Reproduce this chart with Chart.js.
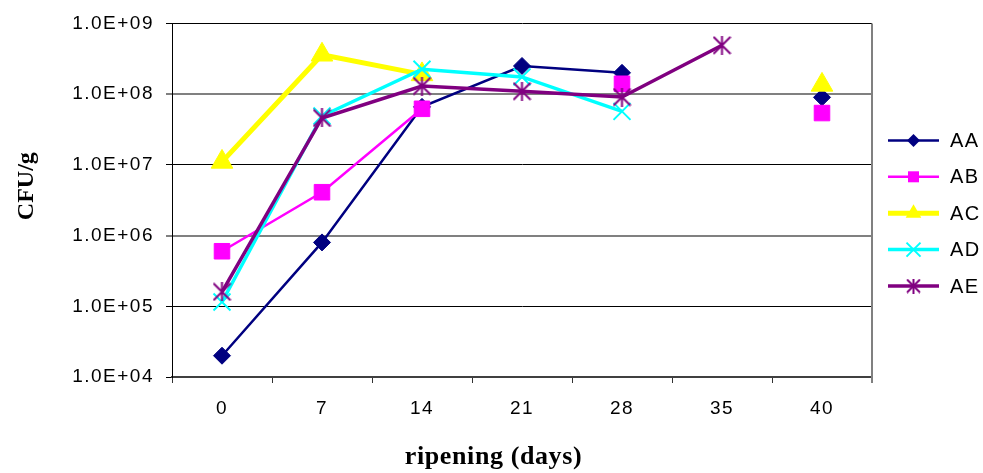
<!DOCTYPE html>
<html>
<head>
<meta charset="utf-8">
<script src="https://cdn.jsdelivr.net/npm/chart.js@4.4.1/dist/chart.umd.min.js"></script>
<style>
  html, body { margin: 0; padding: 0; background: #fff; }
  #wrap { width: 983px; height: 473px; }
</style>
</head>
<body>
<div id="wrap"><canvas id="c" width="983" height="473"></canvas></div>
<script>
// Ripening days (categories)
const days = ['0', '7', '14', '21', '28', '35', '40'];
const seriesNames = ['AA', 'AB', 'AC', 'AD', 'AE'];

// CFU/g counts per sample; null = not measured
const AA = [2.0e4, 8.0e5, 6.6e7, 2.5e8, 2.0e8, null, 9.0e7];
const AB = [6.0e5, 4.1e6, 6.2e7, null, 1.4e8, null, 5.4e7];
const AC = [1.1e7, 3.6e8, 1.9e8, null, null, null, 1.35e8];
const AD = [1.15e5, 4.9e7, 2.25e8, 1.75e8, 5.7e7, null, null];
const AE = [1.6e5, 4.6e7, 1.3e8, 1.1e8, 9.1e7, 4.9e8, null];

// Log axis decades and their labels
const yTickValues = [1e4, 1e5, 1e6, 1e7, 1e8, 1e9];
const yTickLabels = ['1.0E+04', '1.0E+05', '1.0E+06', '1.0E+07', '1.0E+08', '1.0E+09'];

const xTitle = 'ripening (days)';
const yTitle = 'CFU/g';

// Asterisk marker (vertical bar + X) as an image point style
function asteriskImage(size, color, lw) {
  const c = document.createElement('canvas');
  c.width = size; c.height = size;
  const g = c.getContext('2d');
  g.strokeStyle = color;
  g.lineWidth = lw;
  const m = lw / 2;
  g.beginPath();
  g.moveTo(size / 2, 0); g.lineTo(size / 2, size);
  g.moveTo(m, m); g.lineTo(size - m, size - m);
  g.moveTo(size - m, m); g.lineTo(m, size - m);
  g.stroke();
  return c;
}

const starBig = asteriskImage(19, '#800080', 2);
const starSmall = asteriskImage(15, '#800080', 2);

const seriesData = [AA, AB, AC, AD, AE];
const seriesStyle = [
  { color: '#000080', width: 2.5, point: 'rectRot', radius: 8.5, fill: true },
  { color: '#FF00FF', width: 2.5, point: 'rect', radius: 11, fill: true },
  { color: '#FFFF00', width: 5, point: 'triangle', radius: 12.5, fill: true },
  { color: '#00FFFF', width: 3.5, point: 'crossRot', radius: 12, fill: false },
  { color: '#800080', width: 3.5, point: starBig, radius: 9.5, fill: false }
];

const datasets = seriesNames.map((name, i) => {
  const s = seriesStyle[i];
  return {
    label: name,
    data: seriesData[i],
    borderColor: s.color,
    backgroundColor: s.color,
    borderWidth: s.width,
    pointStyle: s.point,
    pointRadius: s.radius,
    pointHoverRadius: s.radius,
    pointBackgroundColor: s.color,
    pointBorderColor: s.color,
    pointBorderWidth: s.fill ? 1 : 2,
    tension: 0,
    spanGaps: false,
    order: seriesNames.length - 1 - i
  };
});

// Slight tracking on the text drawn by the library
const textSpacing = {
  id: 'textSpacing',
  beforeUpdate(chart) { chart.ctx.letterSpacing = '1.5px'; },
  beforeDraw(chart) { chart.ctx.letterSpacing = '1.5px'; },
  afterDraw(chart) { chart.ctx.letterSpacing = '0px'; }
};

// Right border of the plot area, side legend and axis titles
const decorations = {
  id: 'decorations',
  beforeDatasetsDraw(chart) {
    const { ctx, chartArea: a } = chart;
    ctx.save();
    ctx.strokeStyle = '#808080';
    ctx.lineWidth = 2;
    ctx.beginPath();
    ctx.moveTo(a.right, a.top);
    ctx.lineTo(a.right, a.bottom + 6);
    ctx.stroke();
    ctx.restore();
  },
  afterDraw(chart) {
    const { ctx, chartArea: a } = chart;
    ctx.save();

    // legend
    const lx0 = a.right + 16, lx1 = a.right + 67, tx = a.right + 78;
    const ly0 = a.top + 117, step = 36.4;
    const legendR = [6.5, 5.5, 9, 7, 0];
    chart.data.datasets.forEach((ds, i) => {
      const y = ly0 + i * step;
      const mx = (lx0 + lx1) / 2;
      ctx.strokeStyle = ds.borderColor;
      ctx.lineWidth = ds.borderWidth;
      ctx.lineCap = 'butt';
      ctx.beginPath();
      ctx.moveTo(lx0, y); ctx.lineTo(lx1, y);
      ctx.stroke();
      ctx.fillStyle = ds.pointBackgroundColor;
      ctx.strokeStyle = ds.pointBorderColor;
      const r = legendR[i];
      const st = ds.pointStyle;
      if (st === 'rectRot') {
        ctx.beginPath();
        ctx.moveTo(mx - r, y); ctx.lineTo(mx, y - r); ctx.lineTo(mx + r, y); ctx.lineTo(mx, y + r);
        ctx.closePath(); ctx.fill();
      } else if (st === 'rect') {
        ctx.fillRect(mx - r, y - r, 2 * r, 2 * r);
      } else if (st === 'triangle') {
        ctx.beginPath();
        ctx.moveTo(mx, y - r); ctx.lineTo(mx + r * 0.866, y + r * 0.5); ctx.lineTo(mx - r * 0.866, y + r * 0.5);
        ctx.closePath(); ctx.fill();
      } else if (st === 'crossRot') {
        ctx.lineWidth = 2;
        ctx.beginPath();
        ctx.moveTo(mx - r, y - r); ctx.lineTo(mx + r, y + r);
        ctx.moveTo(mx + r, y - r); ctx.lineTo(mx - r, y + r);
        ctx.stroke();
      } else {
        ctx.drawImage(starSmall, mx - starSmall.width / 2, y - starSmall.height / 2);
      }
      ctx.fillStyle = '#000';
      ctx.font = '20px "Liberation Sans", Arial, sans-serif';
      ctx.letterSpacing = '1.5px';
      ctx.textAlign = 'left';
      ctx.textBaseline = 'middle';
      ctx.fillText(ds.label, tx, y + 1);
    });

    // x axis title
    ctx.fillStyle = '#000';
    ctx.font = 'bold 26px "Liberation Serif", "Times New Roman", serif';
    ctx.letterSpacing = '0.6px';
    ctx.textAlign = 'center';
    ctx.textBaseline = 'alphabetic';
    ctx.fillText(xTitle, chart.width / 2 + 2, a.bottom + 87);

    // y axis title
    ctx.letterSpacing = '0px';
    ctx.font = 'bold 24px "Liberation Serif", "Times New Roman", serif';
    ctx.translate(33, (a.top + a.bottom) / 2 - 14);
    ctx.rotate(-Math.PI / 2);
    ctx.textAlign = 'center';
    ctx.textBaseline = 'alphabetic';
    ctx.fillText(yTitle, 0, 0);

    ctx.restore();
  }
};

const tickFont = { family: '"Liberation Sans", Arial, sans-serif', size: 19 };

new Chart(document.getElementById('c'), {
  type: 'line',
  data: { labels: days, datasets: datasets },
  options: {
    responsive: false,
    devicePixelRatio: 1,
    animation: false,
    events: [],
    layout: { padding: { top: 20, right: 111, left: 0, bottom: 0 } },
    plugins: {
      legend: { display: false },
      title: { display: false },
      tooltip: { enabled: false }
    },
    scales: {
      x: {
        type: 'category',
        offset: true,
        grid: {
          offset: true,
          drawOnChartArea: false,
          drawTicks: true,
          tickLength: 6,
          color: '#333',
          lineWidth: 1
        },
        border: { display: true, color: '#404040', width: 2 },
        ticks: { color: '#000', font: tickFont, padding: 14, maxRotation: 0, autoSkip: false },
        afterFit(s) { s.height = 96; }
      },
      y: {
        type: 'logarithmic',
        min: yTickValues[0],
        max: yTickValues[yTickValues.length - 1],
        afterBuildTicks(s) { s.ticks = yTickValues.map(v => ({ value: v })); },
        grid: {
          drawTicks: true,
          tickLength: 6,
          color: c => (c.tick && (c.tick.value === 1e8 || c.tick.value === 1e6)) ? '#808080' : '#000',
          lineWidth: c => (c.tick && (c.tick.value === 1e8 || c.tick.value === 1e6)) ? 2 : 1
        },
        border: { display: true, color: '#000', width: 1 },
        ticks: {
          color: '#000',
          font: tickFont,
          padding: 12,
          callback: v => yTickLabels[Math.round(Math.log10(v)) - 4]
        },
        afterFit(s) { s.width = 172; }
      }
    }
  },
  plugins: [textSpacing, decorations]
});
</script>
</body>
</html>
